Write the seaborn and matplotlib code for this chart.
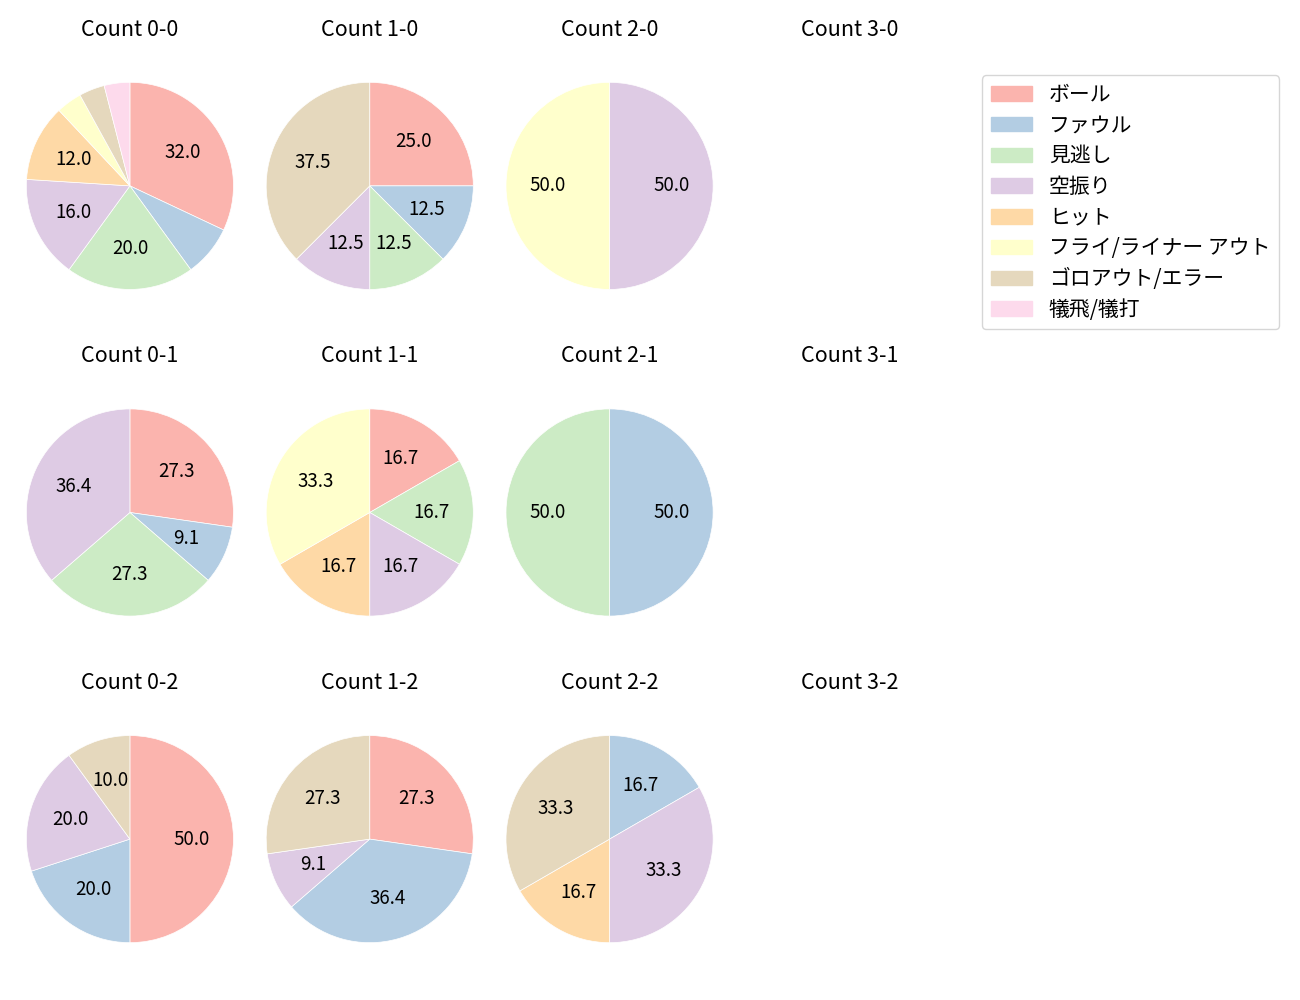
import matplotlib
matplotlib.use("Agg")
import matplotlib.pyplot as plt
import seaborn as sns

sns.set_theme(style="white")
plt.rcParams['font.family'] = ['Noto Sans CJK JP', 'DejaVu Sans']
plt.rcParams['text.color'] = 'black'

# 結果の種類
labels = ["ボール", "ファウル", "見逃し", "空振り", "ヒット",
          "フライ/ライナー アウト", "ゴロアウト/エラー", "犠飛/犠打"]
colors = sns.color_palette("Pastel1", 8)

# カウントごとの件数 (labels と同じ順)
c00 = [8, 2, 5, 4, 3, 1, 1, 1]
c10 = [2, 1, 1, 1, 0, 0, 3, 0]
c20 = [0, 0, 0, 1, 0, 1, 0, 0]
c01 = [3, 1, 3, 4, 0, 0, 0, 0]
c11 = [1, 0, 1, 1, 1, 2, 0, 0]
c21 = [0, 1, 1, 0, 0, 0, 0, 0]
c02 = [5, 2, 0, 2, 0, 0, 1, 0]
c12 = [3, 4, 0, 1, 0, 0, 3, 0]
c22 = [0, 1, 0, 2, 1, 0, 2, 0]

counts = {
    (0, 0): c00, (1, 0): c10, (2, 0): c20,
    (0, 1): c01, (1, 1): c11, (2, 1): c21,
    (0, 2): c02, (1, 2): c12, (2, 2): c22,
}

fig, axes = plt.subplots(3, 4, figsize=(13, 10), dpi=100)
fig.subplots_adjust(left=0.0123, right=0.741, top=0.956, bottom=0.019,
                    wspace=0.0526, hspace=0.151)

for strike in range(3):
    for ball in range(4):
        ax = axes[strike, ball]
        ax.set_title(f"Count {ball}-{strike}", fontsize=15.5, color='black')
        vals = counts.get((ball, strike))
        if vals is None:
            ax.axis('off')
            continue
        idx = [i for i, v in enumerate(vals) if v > 0]
        ax.pie([vals[i] for i in idx], colors=[colors[i] for i in idx],
               startangle=90, counterclock=False,
               autopct=lambda p: f"{p:.1f}" if p >= 9 else "",
               wedgeprops={'linewidth': 0.5, 'edgecolor': 'white'},
               textprops={'fontsize': 13.5, 'color': 'black'})
        ax.axis('equal')

handles = [plt.Rectangle((0, 0), 1, 1, color=c) for c in colors]
fig.legend(handles, labels, loc='upper left', bbox_to_anchor=(0.7475, 0.935),
           fontsize=15, labelspacing=0.42, frameon=True)

fig.savefig("out.png")
